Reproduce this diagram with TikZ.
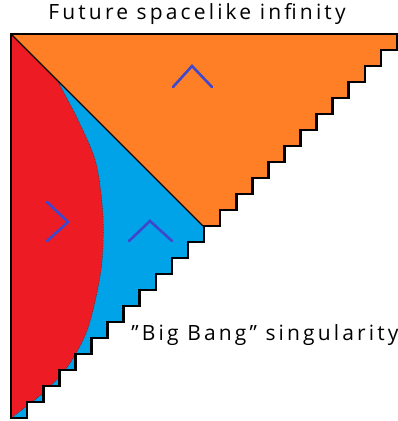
\documentclass[tikz,border=0pt]{standalone}
\usepackage{fontspec}
\setmainfont{Open Sans}[LetterSpace=15]
\usepackage{tikz}
\usetikzlibrary{calc}

\definecolor{paintorange}{RGB}{255,127,39}
\definecolor{paintred}{RGB}{237,28,36}
\definecolor{paintblue}{RGB}{0,162,232}
\definecolor{chevblue}{RGB}{63,72,204}

\begin{document}
\begin{tikzpicture}[x=1pt, y=-1pt,
    every node/.style={font=\fontsize{21}{25}\selectfont},
    edge/.style={line width=2.6pt, line join=miter},
    chev/.style={draw=chevblue, line width=2.6pt, line cap=round},
    caption/.style={inner sep=0pt}
]
  \useasboundingbox (0,0) rectangle (398,421);
  % corners of the diagram
  \coordinate (tl) at (11,34);
  \coordinate (tr) at (397,34);
  \coordinate (bl) at (11,418);
  \coordinate (mid) at (203,226);
  \coordinate (join) at (57,80);

  \begin{scope}
    \clip (tl) -- (tr) foreach \k in {1,...,24}{ -- ++(0,16) -- ++(-16.08,0) } -- cycle;
    \fill[paintblue] (0,0) rectangle (398,421);
    \fill[paintorange] (tl) -- (430,34) -- (430,453) -- cycle;
    \fill[paintred] (tl) -- plot[smooth] coordinates {(57,80) (78,120) (96,163) (103,217)
        (101,270) (88,328) (68,366) (43,393) (11,418)} -- cycle;
    \draw[black!80, line width=0.6pt, densely dotted] plot[smooth] coordinates {(57,80) (78,120)
        (96,163) (103,217) (101,270) (88,328) (68,366) (43,393) (11,418)};
  \end{scope}

  \draw[line width=1.3pt] (tl) -- (mid);
  \draw[edge] (bl) -- (tl) -- (tr) foreach \k in {1,...,24}{ -- ++(0,16) -- ++(-16.08,0) } -- cycle;

  % chevrons
  \draw[chev] (173,87) -- (192,66) -- (212,87);
  \draw[chev] (129,241) -- (150,221) -- (172,241);
  \draw[chev] (47,202) -- (68,222) -- (47,241);

  \node[caption] (future) at (197,14) {Future spacelike infinity};
  \node[caption] (bigbang) at (265,335) {"Big Bang" singularity};
\end{tikzpicture}
\end{document}
